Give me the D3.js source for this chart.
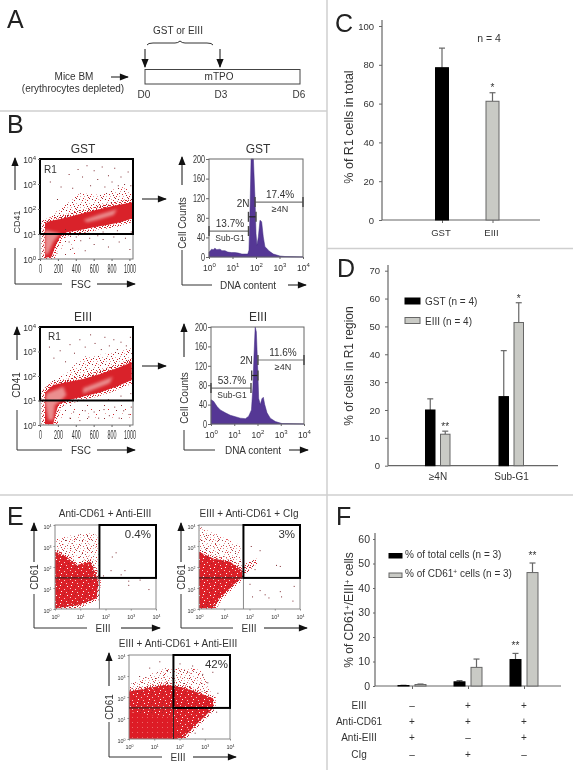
<!DOCTYPE html>
<html><head><meta charset="utf-8">
<script src="https://cdn.jsdelivr.net/npm/d3@7"></script>
<style>
html,body{margin:0;padding:0;background:#fff}
svg{display:block;font-family:"Liberation Sans",Arial,sans-serif;filter:blur(0.3px)}
text{fill:#333}
</style></head><body>
<script>
// ---------- DATA ----------
const cCategories = ["GST","EIII"];
const cValues = [78.5,61.2];
const cErrors = [88.6,65.6];
const cStars = ["","*"];

const dCategories = ["≥4N","Sub-G1"];
const dSeries = ["GST (n = 4)","EIII (n = 4)"];
const dGst = [20,24.8];
const dGstErr = [24,41.3];
const dEiii = [11.3,51.4];
const dEiiiErr = [12.4,58.5];
const dStarsGst = ["",""];
const dStarsEiii = ["**","*"];

const fCategories = ["a","b","c"];
const fTotal = [0.2,1.7,10.8];
const fTotalErr = [0.3,2.2,13.3];
const fCd61 = [0.6,7.6,46.3];
const fCd61Err = [0.8,11,50.2];
const fStarsTotal = ["","","**"];
const fStarsCd61 = ["","","**"];
const fRowNames = ["EIII","Anti-CD61","Anti-EIII","CIg"];
const fRowValues = [["–","+","+"],["+","+","+"],["+","–","+"],["–","+","–"]];

// histograms: [decade of DNA content, cell count]
const histGst = [[0,10],[.06,13],[.11,16],[.18,15],[.25,18],[.33,15],[.47,16],[.55,13],[.68,13],[.8,10],[.96,9],[1.1,9],[1.25,8],[1.4,6],[1.53,6],[1.65,6],[1.7,14],[1.74,82],[1.79,200],[1.89,200],[1.96,116],[2,48],[2.04,24],[2.1,41],[2.17,75],[2.24,72],[2.31,41],[2.38,21],[2.45,18],[2.52,14],[2.62,10],[2.74,6],[3.02,2],[3.23,1],[4,0]];
const histEiii = [[0,50],[.11,47],[.26,36],[.4,29],[.62,23],[.83,18],[1.05,15],[1.26,12],[1.48,11],[1.62,16],[1.74,29],[1.8,74],[1.85,142],[1.9,200],[1.95,190],[2.01,115],[2.05,53],[2.12,40],[2.19,52],[2.25,55],[2.31,40],[2.41,23],[2.55,12],[2.77,5],[3.05,1],[4,0]];

const histYTicks = [0,40,80,120,160,200];
const scatterXTicks = [0,200,400,600,800,1000];
const decadeTicks = [0,1,2,3,4];

// flow-cytometry clouds, outlines: [FSC, log10 CD41]
const gstDense = [[56,1.43],[112,1.52],[225,1.6],[375,1.73],[524,1.87],[674,2],[824,2.13],[974,2.23],[1037,2.27],[1037,1.63],[899,1.47],[749,1.36],[599,1.27],[449,1.16],[300,1.07],[225,.89],[169,.49],[130,.09],[56,.05],[56,1.23]];
const gstSparse = [[56,1.49],[225,2.03],[449,2.63],[674,2.56],[899,2.89],[1037,2.76],[1037,2.27],[674,2],[56,1.43]];
const gstLower = [[169,.05],[300,.83],[449,1.16],[420,.2]];
const gstCores = [[[487,1.56],[674,1.79],[861,1.99],[824,1.76],[637,1.56],[524,1.47]],[[56,1.16],[225,1.03],[150,.69],[93,.23],[56,.16]]];
const gstDots = [[110,3.1],[190,2.4],[230,2.9],[280,1.2],[320,3.4],[360,2.85],[420,3.6],[470,3.3],[520,3.75],[560,2.95],[600,3.55],[640,3.2],[690,3.7],[720,2.9],[760,3.35],[800,3.1],[830,3.65],[870,2.95],[900,3.3],[940,3.0],[980,3.5],[1010,2.95],[320,.7],[360,.45],[400,.9],[450,.75],[500,.35],[550,.85],[600,.6],[640,.95],[700,.8],[760,.5],[820,.9],[880,.7],[950,.85],[1000,.4],[1015,1.1],[860,1.15],[700,1.1],[540,1.05]];
const eiiiDense = [[56,1.33],[148,1.63],[296,1.74],[481,1.88],[667,2.07],[852,2.31],[1026,2.56],[1026,1.84],[852,1.56],[667,1.33],[481,1.16],[296,.99],[204,.82],[167,.34],[148,.03],[56,.03],[56,1.09]];
const eiiiSparse = [[56,1.63],[296,2.11],[481,2.79],[667,2.86],[852,2.99],[1026,3.13],[1026,2.56],[852,2.31],[481,1.88],[56,1.33]];
const eiiiLower = [[185,.07],[222,.82],[481,.82],[1026,.82],[1026,.2],[481,.14]];
const eiiiCores = [[[74,1.29],[259,1.56],[296,1.22],[222,.95],[167,.82],[148,.2],[93,.2],[56,.95]],[[481,1.5],[815,1.97],[778,1.7],[481,1.29]]];
const eiiiDots = [[100,3.2],[150,2.75],[220,3.05],[280,2.6],[330,3.3],[380,2.95],[440,3.5],[500,3.2],[560,3.7],[610,3.35],[680,3.1],[720,3.6],[770,3.25],[820,3.5],[860,3.1],[900,3.4],[960,3.25],[1005,3.6],[330,.3],[370,.55],[440,.2],[500,.6],[540,.35],[600,.55],[650,.3],[710,.65],[770,.4],[830,.75],[880,.3],[930,.6],[990,.45],[1015,.75],[1010,1.3],[900,1.2],[760,1.05]];

// E panels: [log10 EIII, log10 CD61]
const e1Dense = [[0,2.73],[.46,2.49],[.86,2.1],[1.39,2.25],[1.58,1.78],[1.72,1.3],[1.65,.51],[.99,.19],[0,.03]];
const e1Sparse = [[.07,3.37],[1.52,3.68],[1.72,3.37],[1.72,1.3],[1.39,2.25],[0,2.73]];
const e1Dots = [[2.2,1.85],[2.4,2.7],[2.6,1.65],[2.75,1.85],[2.9,1.35],[3.35,1.4],[3.7,.95],[2.9,1.15],[2.25,2.5],[1.9,1.6]];
const e2Dense = [[0,2.73],[.57,2.41],[1.23,2.25],[1.69,1.86],[1.73,1.54],[1.36,1.14],[.83,.51],[.57,.03],[0,.03]];
const e2Sparse = [[.04,3.92],[1.63,3.05],[1.69,1.98],[0,2.73]];
const e2Cluster = [[1.73,2.1],[2.28,2.41],[2.31,2.17],[1.95,1.78],[1.73,1.54]];
const e2Dots = [[2.05,3],[2.2,1.9],[2.4,2.8],[3.05,2.1],[3.2,2.05],[2,1.2],[2.4,.9],[2.6,.7],[2.75,.55],[3.2,.85],[3.25,.6],[3.75,1.1],[2.1,.6],[3.7,.4]];
const e3Solid = [[0,1.31],[.69,1.15],[1.74,1.07],[1.87,.84],[1.94,0],[0,0]];
const e3Dense = [[0,2.26],[1.48,2.58],[2.27,2.42],[3.33,1.94],[3.33,1.47],[2.8,.84],[2.14,.05],[0,0]];
const e3Sparse = [[0,2.58],[1.35,3.37],[2.8,3.37],[3.33,2.1],[2.27,2.42],[0,2.26]];
const e3Dots = [[.8,3.4],[1.2,3.7],[2,3.6],[2.3,3.2],[2.5,3.5],[2.9,3.1],[3.1,2.7],[3.3,3.2],[3.5,2.2],[.4,3],[3.45,1.3],[2.9,.5],[2.6,.3],[3.1,1.1]];

// ---------- DRAWING ----------
const W=573,H=770;
const svg=d3.select("body").append("svg").attr("width",W).attr("height",H);
const defs=svg.append("defs");
defs.append("marker").attr("id","ah").attr("viewBox","0 0 10 10").attr("refX",9).attr("refY",5)
  .attr("markerUnits","userSpaceOnUse").attr("markerWidth",11).attr("markerHeight",9).attr("orient","auto")
  .append("path").attr("d","M0,1 L10,5 L0,9 Z").attr("fill","#111");
[["soft",.6],["softer",1.6]].forEach(f=>defs.append("filter").attr("id",f[0]).attr("x","-20%").attr("y","-20%").attr("width","140%").attr("height","140%")
  .append("feGaussianBlur").attr("stdDeviation",f[1]));

function speckle(id,bg,w,h,dots){
  const p=defs.append("pattern").attr("id",id).attr("patternUnits","userSpaceOnUse").attr("width",w).attr("height",h);
  if(bg) p.append("rect").attr("width",w).attr("height",h).attr("fill",bg);
  dots.forEach(d=>p.append("rect").attr("x",d[0]).attr("y",d[1]).attr("width",d[3]||1).attr("height",d[3]||1).attr("fill",d[2]));
}
const R="#d9232b",D="#8a2a30",P="#e7a3a3";
speckle("sparseFill",null,13,11,[[1,1,D],[5,0,R],[9,2,R],[3,4,P],[7,4,D],[11,5,P],[0,7,R],[5,7,R],[9,8,D],[2,9,P],[12,9,R],[7,1,P],[11,0,D],[4,2,R],[2,6,D],[8,6,R],[6,9,P],[10,10,R]]);
speckle("thinFill",null,17,13,[[2,2,D],[10,1,P],[6,6,R],[14,7,D],[3,10,P],[11,11,R]]);
speckle("edgeFill",null,5,5,[[0,0,R],[2,1,D],[4,2,R],[1,3,R],[3,4,P],[3,0,R],[0,2,R]]);
speckle("denseFill","#dc2028",11,9,[[1,1,"#fff"],[4,3,"#f5c9c9"],[2,5,"#a8262c"],[6,6,"#fff"],[8,1,"#a8262c"],[9,4,"#f5c9c9"],[5,0,"#fff"],[0,7,"#f5c9c9"],[9,8,"#a8262c"]]);
speckle("solidFill","#dd1f26",5,5,[[2,2,"#ea6a6a"]]);

const line=d3.line();
function tx(x,y,s,o={}){
  const t=svg.append("text").attr("x",x).attr("y",y).attr("font-size",o.size||10).attr("text-anchor",o.anchor||"middle").text(s);
  if(o.fill)t.style("fill",o.fill);
  if(o.rot)t.attr("transform",`rotate(-90 ${x} ${y})`);
  return t;
}
function ln(x1,y1,x2,y2,c="#111",w=1,arrow=false){
  const l=svg.append("line").attr("x1",x1).attr("y1",y1).attr("x2",x2).attr("y2",y2).attr("stroke",c).attr("stroke-width",w);
  if(arrow)l.attr("marker-end","url(#ah)");
}
// dividers
const DIV="#cfcfcf";
ln(0,111,327,111,DIV,1.5);ln(327,0,327,770,DIV,1.5);ln(327,248.5,573,248.5,DIV,1.5);ln(0,495,573,495,DIV,1.5);
// panel letters
[["A",7,28],["B",7,133],["C",335,32],["D",337,277],["E",7,525],["F",336,525]].forEach(a=>tx(a[1],a[2],a[0],{size:25,anchor:"start"}).style("fill","#222"));

// panel A
tx(178,34,"GST or EIII");
svg.append("path").attr("d","M147,45 Q148,43 153,43 L175,43 Q178,43 180,41 Q182,43 185,43 L207,43 Q212,43 213,45").attr("fill","none").attr("stroke","#333");
ln(145,49,145,67,"#111",1,true);ln(220,49,220,67,"#111",1,true);
svg.append("rect").attr("x",145).attr("y",69.5).attr("width",155).attr("height",14.5).attr("fill","none").attr("stroke","#444");
tx(219,80,"mTPO");tx(144,98,"D0");tx(221,98,"D3");tx(299,98,"D6");
tx(74,80,"Mice BM");tx(73,92,"(erythrocytes depleted)");
ln(111,77,128,77,"#111",1,true);

// helpers for plots
function poly(g,pts,fill,x,y,op=1){
  return g.append("path").attr("d",line(pts.map(p=>[x(p[0]),y(p[1])]))+"Z").attr("fill",fill).attr("opacity",op);
}
function dots(g,pts,x,y){
  g.selectAll(null).data(pts).enter().append("rect").attr("x",d=>x(d[0])).attr("y",d=>y(d[1])).attr("width",1).attr("height",1).attr("fill","#7d2a30");
}
function powLabels(axisG,big,small,dy){
  axisG.selectAll(".tick text").each(function(d){
    const t=d3.select(this);t.text(null);
    t.append("tspan").attr("font-size",big).text("10");
    t.append("tspan").attr("font-size",small).attr("dy",dy).text(d);
  });
}
function clipFor(id,x,y,w,h){defs.append("clipPath").attr("id",id).append("rect").attr("x",x).attr("y",y).attr("width",w).attr("height",h);}
function styleAxis(g,c="#666"){g.attr("font-family",null);g.selectAll("path,line").attr("stroke",c);g.selectAll("text").style("fill","#333");}

// panel B scatter
function scatterB(o){
  const x=d3.scaleLinear().domain([0,1040]).range([40,133]);
  const y=d3.scaleLinear().domain([0,4]).range([o.bottom,o.top]);
  clipFor(o.id,40,o.top,93,o.bottom-o.top);
  const g=svg.append("g").attr("clip-path",`url(#${o.id})`);
  poly(g,o.sparse,"url(#sparseFill)",x,y);
  poly(g,o.lower,"url(#thinFill)",x,y);
  poly(g,o.dense,"url(#edgeFill)",x,y).attr("stroke","url(#edgeFill)").attr("stroke-width",7);
  poly(g,o.dense,R,x,y).attr("filter","url(#soft)");
  o.cores.forEach(c=>poly(g,c,"#ec9a9a",x,y,.9).attr("filter","url(#softer)"));
  dots(g,o.dots,x,y);
  svg.append("rect").attr("x",40).attr("y",o.top).attr("width",93).attr("height",o.bottom-o.top).attr("fill","none").attr("stroke","#777");
  svg.append("rect").attr("x",40).attr("y",o.top).attr("width",93).attr("height",y(1)-o.top).attr("fill","none").attr("stroke","#000").attr("stroke-width",2);
  const ax=svg.append("g").attr("transform",`translate(0,${o.bottom})`).call(d3.axisBottom(x).tickValues(scatterXTicks).tickFormat(d3.format("d")).tickSize(2).tickPadding(3).tickSizeOuter(0));
  styleAxis(ax);ax.select(".domain").remove();
  ax.selectAll("text").attr("font-size",12).attr("transform","scale(.45,1)");
  const ay=svg.append("g").attr("transform","translate(40,0)").call(d3.axisLeft(y).tickValues(decadeTicks).tickSize(2).tickPadding(2));
  styleAxis(ay);ay.select(".domain").remove();
  powLabels(ay,8.5,6,-3);
  tx(83,o.title,o.name,{size:12});
  tx(o.r1x,o.r1y,"R1",{size:10,anchor:"start"});
  tx(20,o.cy,"CD41",{size:o.cs,rot:true});
  ln(o.ax,o.a1,o.ax,o.a2,"#111",1,true);
  svg.append("path").attr("d",`M${o.ax},${o.l1} V${o.l2} H62`).attr("fill","none").attr("stroke","#333");
  tx(81,o.l2+4,"FSC",{size:10});
  ln(97,o.l2,135,o.l2,"#111",1,true);
  ln(142,o.ar,166,o.ar,"#111",1,true);
}
scatterB({id:"c1",name:"GST",top:159,bottom:259,title:153,r1x:44,r1y:173,dense:gstDense,sparse:gstSparse,lower:gstLower,cores:gstCores,dots:gstDots,cy:222,cs:9,ax:15,a1:190,a2:158,l1:248,l2:284,ar:199});
scatterB({id:"c2",name:"EIII",top:327,bottom:425,title:321,r1x:48,r1y:340,dense:eiiiDense,sparse:eiiiSparse,lower:eiiiLower,cores:eiiiCores,dots:eiiiDots,cy:385,cs:10,ax:17,a1:360,a2:327,l1:410,l2:450,ar:366});

// panel B histograms
function hist(o){
  const x=d3.scaleLinear().domain([0,4]).range([o.left,o.right]);
  const y=d3.scaleLinear().domain([0,200]).range([o.bottom,o.top]);
  const area=d3.area().x(d=>x(d[0])).y0(y(0)).y1(d=>y(d[1]));
  svg.append("path").attr("d",area(o.data)).attr("fill","#553795").attr("stroke","#3f2a80").attr("stroke-width",.5);
  svg.append("rect").attr("x",o.left).attr("y",o.top).attr("width",o.right-o.left).attr("height",o.bottom-o.top).attr("fill","none").attr("stroke","#666");
  const ay=svg.append("g").attr("transform",`translate(${o.left},0)`).call(d3.axisLeft(y).tickValues(histYTicks).tickSize(3).tickPadding(1).tickSizeOuter(0));
  styleAxis(ay);ay.select(".domain").remove();
  ay.selectAll("text").attr("font-size",10).attr("transform","scale(.72,1)").attr("x",-4/.72);
  const ax=svg.append("g").attr("transform",`translate(0,${o.bottom})`).call(d3.axisBottom(x).tickValues(decadeTicks).tickSize(2).tickPadding(5).tickSizeOuter(0));
  styleAxis(ax);ax.select(".domain").remove();
  powLabels(ax,8.5,6,-4);
  tx(o.titleX,o.titleY,o.name,{size:12});
  tx(o.lx+4,o.ly,"Cell Counts",{size:10,rot:true});
  ln(o.ax,o.a1,o.ax,o.a2,"#111",1,true);
  svg.append("path").attr("d",`M${o.ax},${o.l1} V${o.l2} H${o.h1}`).attr("fill","none").attr("stroke","#333");
  tx(o.dx,o.l2+4,"DNA content",{size:10});
  ln(o.h2,o.l2,o.h3,o.l2,"#111",1,true);
  const gate=(a,b,c,col="#777")=>{
    ln(x(a),y(c),x(b),y(c),col,1.2);
    ln(x(a),y(c)-5,x(a),y(c)+5,"#444",1.4);ln(x(b),y(c)-5,x(b),y(c)+5,"#444",1.4);
  };
  gate(o.sub[0],o.sub[1],o.sub[2]);
  gate(o.four[0],o.four[1],o.four[2]);
  gate(o.two[0],o.two[1],o.two[2],"#222");
  tx(x(o.four[0])+25,y(o.four[2])-4,o.fourPct,{size:10});
  tx(x(o.four[0])+25,y(o.four[2])+10,"≥4N",{size:9});
  tx(x(o.sub[0])+21,y(o.sub[2])-4,o.subPct,{size:10});
  tx(x(o.sub[0])+21,y(o.sub[2])+10,"Sub-G1",{size:8.5});
  tx(x(o.two[0])+1,o.twoY,"2N",{size:10,anchor:"end"});
}
hist({data:histGst,name:"GST",left:209,right:303,top:159,bottom:257,titleX:258,titleY:153,lx:182,ly:223,ax:182,a1:185,a2:157,l1:250,l2:285,h1:212,dx:248,h2:288,h3:306,
  sub:[0,1.68,53],four:[1.96,4,112],two:[1.68,2,82],fourPct:"17.4%",subPct:"13.7%",twoY:207});
hist({data:histEiii,name:"EIII",left:211,right:304,top:327,bottom:424,titleX:258,titleY:321,lx:184,ly:398,ax:184,a1:357,a2:324,l1:430,l2:450,h1:215,dx:253,h2:289,h3:308,
  sub:[0,1.72,74],four:[2.02,4,132],two:[1.75,2.02,100],fourPct:"11.6%",subPct:"53.7%",twoY:364});

// shared bar helpers
function errBar(g,xc,y0,y1,c="#666",cap=3){
  g.append("line").attr("x1",xc).attr("x2",xc).attr("y1",y0).attr("y2",y1).attr("stroke",c).attr("stroke-width",1.2);
  g.append("line").attr("x1",xc-cap).attr("x2",xc+cap).attr("y1",y1).attr("y2",y1).attr("stroke",c).attr("stroke-width",1.2);
}
function barAxes(y,ticks,xl,xr,bottom,topExt,fs,tick,pad,xScale){
  const ay=svg.append("g").attr("transform",`translate(${xl},0)`).call(d3.axisLeft(y).tickValues(ticks).tickSize(tick).tickPadding(pad).tickSizeOuter(0));
  styleAxis(ay);ay.select(".domain").remove();ay.selectAll("text").attr("font-size",fs);
  ln(xl,topExt,xl,bottom,"#666",1.2);ln(xl,bottom,xr,bottom,"#666",1.2);
  if(xScale){
    const ax=svg.append("g").attr("transform",`translate(0,${bottom})`).call(d3.axisBottom(xScale).tickSize(3).tickSizeOuter(0).tickFormat(""));
    styleAxis(ax);ax.select(".domain").remove();
  }
}

// panel C
{
  const y=d3.scaleLinear().domain([0,100]).range([220,26]);
  const x=d3.scalePoint().domain(cCategories).range([442,492.5]);
  barAxes(y,[0,20,40,60,80,100],382,540,220,20,9.5,3,5,x);
  const g=svg.append("g");
  cCategories.forEach((c,i)=>{
    const xc=x(c);
    errBar(g,xc,y(cValues[i]),y(cErrors[i]));
    g.append("rect").attr("x",xc-6.5).attr("y",y(cValues[i])).attr("width",13).attr("height",y(0)-y(cValues[i]))
      .attr("fill",i?"#c9cac5":"#000").attr("stroke",i?"#666":"#000");
    tx(xc-1,236,c,{size:9.5});
    if(cStars[i])tx(xc,y(cErrors[i])-2,cStars[i],{size:10});
  });
  tx(489,42,"n = 4",{size:10.5});
  tx(353,127,"% of R1 cells in total",{size:12.5,rot:true});
}

// panel D
{
  const y=d3.scaleLinear().domain([0,70]).range([465.7,270.7]);
  const x=d3.scalePoint().domain(dCategories).range([438,511.5]);
  barAxes(y,d3.range(0,71,10),388,558,465.7,265,9.5,3,5);
  const g=svg.append("g");
  dCategories.forEach((c,i)=>{
    const xc=x(c);
    [[dGst,dGstErr,-12.5,"#000",dStarsGst],[dEiii,dEiiiErr,2.5,"#c9cac5",dStarsEiii]].forEach(s=>{
      const v=s[0][i],e=s[1][i];
      errBar(g,xc+s[2]+4.75,y(v),y(e));
      g.append("rect").attr("x",xc+s[2]).attr("y",y(v)).attr("width",9.5).attr("height",y(0)-y(v)).attr("fill",s[3]).attr("stroke",s[3]=="#000"?"#000":"#666");
      if(s[4][i])tx(xc+s[2]+4.75,y(e)-1,s[4][i],{size:10});
    });
    tx(xc,480,c);
  });
  [[dSeries[0],"#000",298,305],[dSeries[1],"#c9cac5",317.5,324.5]].forEach(s=>{
    g.append("rect").attr("x",405).attr("y",s[2]).attr("width",15).attr("height",6).attr("fill",s[1]).attr("stroke",s[1]=="#000"?"#000":"#666");
    tx(425,s[3],s[0],{size:10,anchor:"start"});
  });
  tx(353,366,"% of cells in R1 region",{size:12,rot:true});
}

// panel E
function flow(o){
  const x=d3.scaleLinear().domain([0,4]).range([o.left,o.left+101]);
  const y=d3.scaleLinear().domain([0,4]).range([o.top+84,o.top]);
  clipFor(o.id,o.left,o.top,101,84);
  const g=svg.append("g").attr("clip-path",`url(#${o.id})`);
  poly(g,o.sparse,"url(#thinFill)",x,y);
  poly(g,o.sparse,"url(#sparseFill)",x,y,.8);
  (o.extra||[]).forEach(e=>poly(g,e,"url(#edgeFill)",x,y));
  poly(g,o.dense,"url(#denseFill)",x,y).attr("stroke","url(#edgeFill)").attr("stroke-width",5);
  if(o.solid)poly(g,o.solid,"url(#solidFill)",x,y).attr("filter","url(#soft)");
  dots(g,o.dots,x,y);
  svg.append("rect").attr("x",o.left).attr("y",o.top).attr("width",101).attr("height",84).attr("fill","none").attr("stroke","#888");
  const gx=x(1.76),gy=y(1.48);
  ln(o.left,gy,gx,gy,"#222",1);ln(gx,gy,gx,o.top+84,o.vcol,1);
  svg.append("rect").attr("x",gx).attr("y",o.top).attr("width",o.left+101-gx).attr("height",gy-o.top).attr("fill","none").attr("stroke","#000").attr("stroke-width",2);
  const ax=svg.append("g").attr("transform",`translate(0,${o.top+84})`).call(d3.axisBottom(x).tickValues(decadeTicks).tickSize(1.5).tickPadding(1.5).tickSizeOuter(0));
  styleAxis(ax,"#888");ax.select(".domain").remove();powLabels(ax,5.5,3.5,-2);
  const ay=svg.append("g").attr("transform",`translate(${o.left},0)`).call(d3.axisLeft(y).tickValues(decadeTicks).tickSize(1.5).tickPadding(2).tickSizeOuter(0));
  styleAxis(ay,"#888");ay.select(".domain").remove();powLabels(ay,5.5,3.5,-2);
  tx(o.tx,o.top-8,o.name,{size:10});
  tx(o.left+o.pr,o.top+13,o.pct,{size:11.5,anchor:"end"});
  const ac=o.axisX;
  ln(ac,o.a1,ac,o.top-2,"#111",1,true);
  tx(ac+4,o.top+52,"CD61",{size:10,rot:true});
  svg.append("path").attr("d",`M${ac},${o.a2} V${o.hy} H${o.h1}`).attr("fill","none").attr("stroke","#333");
  tx(o.h1+16,o.hy+4,"EIII",{size:10});
  ln(o.h2,o.hy,o.h3,o.hy,"#111",1,true);
}
flow({id:"f1",name:"Anti-CD61 + Anti-EIII",tx:105,pr:96,pct:"0.4%",left:55,top:525,dense:e1Dense,sparse:e1Sparse,dots:e1Dots,vcol:"#888",axisX:34,a1:562,a2:594,hy:628,h1:87,h2:121,h3:160});
flow({id:"f2",name:"EIII + Anti-CD61 + CIg",tx:249,pr:96,pct:"3%",left:199,top:525,dense:e2Dense,sparse:e2Sparse,extra:[e2Cluster],dots:e2Dots,vcol:"#888",axisX:181,a1:562,a2:594,hy:628,h1:233,h2:264,h3:307});
flow({id:"f3",name:"EIII + Anti-CD61 + Anti-EIII",tx:178,pr:99,pct:"42%",left:129,top:655,dense:e3Dense,sparse:e3Sparse,solid:e3Solid,dots:e3Dots,vcol:"#222",axisX:109,a1:686,a2:722,hy:757,h1:162,h2:193,h3:236});

// panel F
{
  const y=d3.scaleLinear().domain([0,60]).range([686,539]);
  const x=d3.scalePoint().domain(fCategories).range([412,524]);
  barAxes(y,d3.range(0,61,10),375,561,686,533,10.5,2,3,x);
  const g=svg.append("g");
  fCategories.forEach((c,i)=>{
    const xc=x(c);
    [[fTotal,fTotalErr,-14,"#000",fStarsTotal],[fCd61,fCd61Err,3,"#c9cac5",fStarsCd61]].forEach(s=>{
      const v=s[0][i],e=s[1][i];
      errBar(g,xc+s[2]+5.5,y(v),y(e));
      g.append("rect").attr("x",xc+s[2]).attr("y",y(v)).attr("width",11).attr("height",y(0)-y(v)).attr("fill",s[3]).attr("stroke",s[3]=="#000"?"#000":"#666");
      if(s[4][i])tx(xc+s[2]+5.5,y(e)-4,s[4][i],{size:10});
    });
    fRowValues.forEach((row,r)=>tx(xc,712+16.2*r-3,row[i],{size:10}));
  });
  fRowNames.forEach((n,r)=>tx(359,712+16.2*r-3,n,{size:10}));
  const lg=(yy,fill,ty,parts)=>{
    g.append("rect").attr("x",389).attr("y",yy).attr("width",13).attr("height",4.5).attr("fill",fill).attr("stroke",fill=="#000"?"#000":"#666");
    const t=tx(405,ty,"",{size:10,anchor:"start"});
    parts.forEach(p=>{t.append("tspan").attr("font-size",p[1]?6.5:10).attr("dy",p[1]?-3:(p[2]?3:0)).text(p[0]);});
  };
  lg(553.5,"#000",558,[["% of total cells (n = 3)"]]);
  lg(573,"#c9cac5",577,[["% of CD61"],["+",1],[" cells (n = 3)",0,1]]);
  const t=tx(353,610,"",{size:12,rot:true});
  [["% of CD61"],["+",1],["/EIII",0,1],["+",1],[" cells",0,1]].forEach(p=>{t.append("tspan").attr("font-size",p[1]?7.5:12).attr("dy",p[1]?-3:(p[2]?3:0)).text(p[0]);});
}
</script>
</body></html>
